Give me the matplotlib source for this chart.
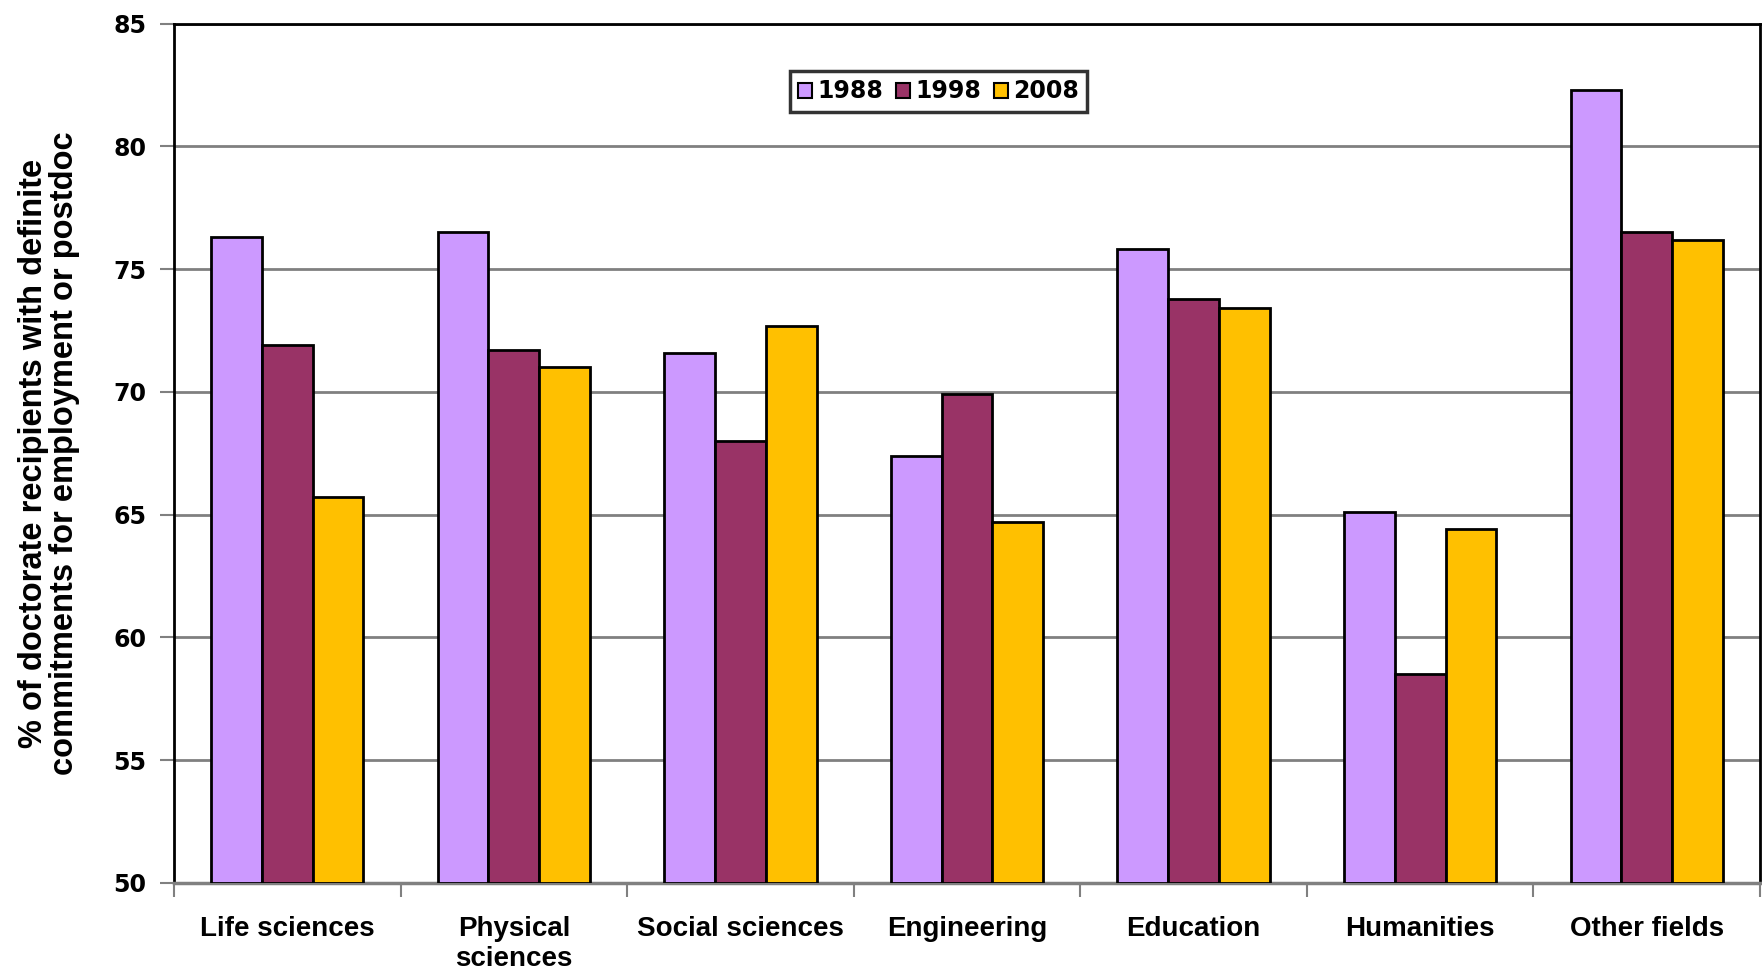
import numpy as np
from matplotlib import pyplot as plt

categories = ["Life sciences", "Physical\nsciences", "Social sciences", "Engineering",
              "Education", "Humanities", "Other fields"]
years = ["1988", "1998", "2008"]
v1988 = [76.3, 76.5, 71.6, 67.4, 75.8, 65.1, 82.3]
v1998 = [71.9, 71.7, 68.0, 69.9, 73.8, 58.5, 76.5]
v2008 = [65.7, 71.0, 72.7, 64.7, 73.4, 64.4, 76.2]
colors = ["#cc99ff", "#993366", "#ffc000"]

plt.rcParams['font.family'] = ['Liberation Sans', 'DejaVu Sans']

fig = plt.figure(figsize=(17.62, 9.73), dpi=100)
ax = fig.add_axes([174 / 1762, 1 - 883 / 973, 1586 / 1762, 859.5 / 973])

x = np.arange(len(categories))
w = 0.224
for i, (vals, c, lab) in enumerate(zip([v1988, v1998, v2008], colors, years)):
    ax.bar(x + (i - 1) * w, np.array(vals) - 50, bottom=50, width=w, color=c,
           edgecolor="black", linewidth=2, label=lab, zorder=3)

ax.set_xlim(-0.5, len(categories) - 0.5)
ax.set_ylim(50, 85)
ax.set_yticks(np.arange(50, 86, 5))
ax.yaxis.grid(True, color="#808080", linewidth=2, zorder=0)

# ticks at category boundaries, labels in the middle
ax.set_xticks(np.arange(-0.5, len(categories), 1))
ax.set_xticklabels([])
ax.set_xticks(x, minor=True)
ax.set_xticklabels(categories, minor=True, fontsize=20, fontweight="bold", va="top",
                   linespacing=1.2)
ax.tick_params(axis="x", which="minor", length=0, pad=24)
ax.tick_params(axis="x", which="major", length=10, width=1.5, color="#808080")
ax.tick_params(axis="y", length=10, width=1.5, color="#808080", pad=10)
for t in ax.get_yticklabels():
    t.set_fontweight("bold")
    t.set_family("DejaVu Sans")
    t.set_fontsize(17)

for s in ["top", "right", "left"]:
    ax.spines[s].set_color("black")
    ax.spines[s].set_linewidth(2)
ax.spines["bottom"].set_color("#808080")
ax.spines["bottom"].set_linewidth(2.5)

ax.set_ylabel("% of doctorate recipients with definite\ncommitments for employment or postdoc",
              fontsize=23.5, fontweight="bold", labelpad=24, linespacing=1.0)

leg = ax.legend(loc="center", bbox_to_anchor=(0.482, 0.921), ncol=3, frameon=True,
                fancybox=False, handlelength=0.6, handleheight=0.6, handletextpad=0.2,
                columnspacing=0.55, borderpad=0.35,
                prop={"weight": "bold", "size": 17, "family": "DejaVu Sans"})
leg.get_frame().set_edgecolor("black")
leg.get_frame().set_linewidth(2.5)
for h in leg.legend_handles:
    h.set_linewidth(1.5)

plt.savefig("out.png", dpi=100)
